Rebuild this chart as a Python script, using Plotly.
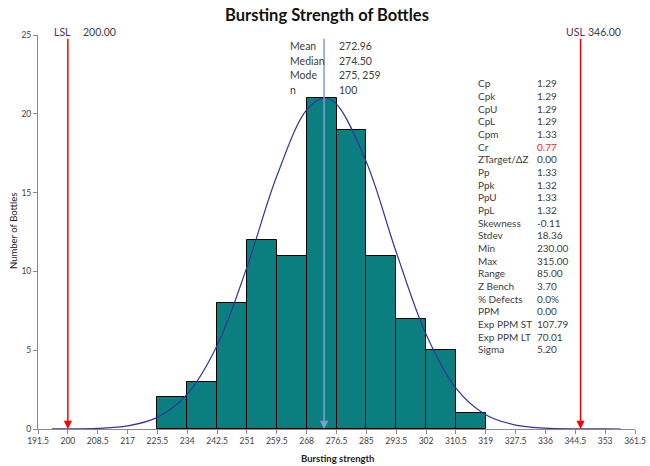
import plotly.graph_objects as go

# ---- data ----
bin_edges = [225.5, 234, 242.5, 251, 259.5, 268, 276.5, 285, 293.5, 302, 310.5, 319]
counts = [2, 3, 8, 12, 11, 21, 19, 11, 7, 5, 1]

curve_x = [195.5, 200, 208.5, 217, 225.5, 234, 242.5, 251, 259.5, 268, 273,
           276.5, 285, 293.5, 302, 310.5, 319, 327.5, 336, 344.5, 353, 357.5]
curve_y = [0.003, 0.008, 0.044, 0.20, 0.74, 2.21, 5.30, 10.27, 16.05, 20.25, 21.0,
           20.61, 16.94, 11.23, 6.01, 2.60, 0.91, 0.25, 0.058, 0.011, 0.002, 0.0005]

x_ticks = [191.5, 200, 208.5, 217, 225.5, 234, 242.5, 251, 259.5, 268, 276.5,
           285, 293.5, 302, 310.5, 319, 327.5, 336, 344.5, 353, 361.5]
x_tick_text = ["191.5", "200", "208.5", "217", "225.5", "234", "242.5", "251", "259.5",
               "268", "276.5", "285", "293.5", "302", "310.5", "319", "327.5", "336",
               "344.5", "353", "361.5"]

lsl = 200.0
usl = 346.0
mean = 272.96

center_labels = ["Mean", "Median", "Mode", "n"]
center_values = ["272.96", "274.50", "275, 259", "100"]

stat_labels = ["Cp", "Cpk", "CpU", "CpL", "Cpm", "Cr", "ZTarget/ΔZ", "Pp", "Ppk", "PpU",
               "PpL", "Skewness", "Stdev", "Min", "Max", "Range", "Z Bench", "% Defects",
               "PPM", "Exp PPM ST", "Exp PPM LT", "Sigma"]
stat_values = ["1.29", "1.29", "1.29", "1.29", "1.33", "0.77", "0.00", "1.33", "1.32", "1.33",
               "1.32", "-0.11", "18.36", "230.00", "315.00", "85.00", "3.70", "0.0%",
               "0.00", "107.79", "70.01", "5.20"]

FONT = "Lato"
TXT = "#404040"

W, H = 650, 466
L, R, T, B = 38, 14.5, 35, 37
PW = W - L - R
PH = H - T - B


def px_x(px):
    return (px - L) / PW


def px_y(py):
    return (H - B - py) / PH


centers = [(bin_edges[i] + bin_edges[i + 1]) / 2 for i in range(len(counts))]
widths = [bin_edges[i + 1] - bin_edges[i] for i in range(len(counts))]

fig = go.Figure()
fig.add_trace(go.Bar(
    x=centers, y=counts, width=widths,
    marker=dict(color="#0b7f7f", line=dict(color="#000000", width=1)),
    hoverinfo="x+y", showlegend=False))
fig.add_trace(go.Scatter(
    x=curve_x, y=curve_y, mode="lines",
    line=dict(color="#35359a", width=1.2, shape="spline"),
    showlegend=False, hoverinfo="skip"))

annotations = []
# LSL / USL / mean arrows
for xv, col, w in [(lsl, "#ff0000", 1.5), (usl, "#ff0000", 1.5), (mean, "#7f9ed0", 1.5)]:
    annotations.append(dict(
        x=xv, y=0, ax=xv, ay=24.85, xref="x", yref="y", axref="x", ayref="y",
        showarrow=True, arrowhead=2, arrowsize=1.1, arrowwidth=w, arrowcolor=col, text=""))

# LSL / USL labels
for txt, px, col in [("LSL", 52, "#5a2a5a"), ("200.00", 81, TXT), ("USL", 564, "#5a2a5a"), ("346.00", 586, TXT)]:
    annotations.append(dict(
        x=px_x(px), y=px_y(31.5), xref="paper", yref="paper", xanchor="left", yanchor="middle",
        text=txt, showarrow=False, font=dict(family=FONT, size=10.5, color=col)))

# center stats
for i, (lab, val) in enumerate(zip(center_labels, center_values)):
    yy = px_y(46 + i * 14.5)
    annotations.append(dict(x=px_x(288), y=yy, xref="paper", yref="paper", xanchor="left",
                            yanchor="middle", text=lab, showarrow=False,
                            font=dict(family=FONT, size=10.5, color=TXT)))
    annotations.append(dict(x=px_x(337), y=yy, xref="paper", yref="paper", xanchor="left",
                            yanchor="middle", text=val, showarrow=False,
                            font=dict(family=FONT, size=10.5, color=TXT)))

# right stats
for i, (lab, val) in enumerate(zip(stat_labels, stat_values)):
    yy = px_y(83.5 + i * 12.65)
    vcol = "#ff2020" if lab == "Cr" else TXT
    annotations.append(dict(x=px_x(476), y=yy, xref="paper", yref="paper", xanchor="left",
                            yanchor="middle", text=lab, showarrow=False,
                            font=dict(family=FONT, size=10, color=TXT)))
    annotations.append(dict(x=px_x(535), y=yy, xref="paper", yref="paper", xanchor="left",
                            yanchor="middle", text=val, showarrow=False,
                            font=dict(family=FONT, size=10, color=vcol)))

# axis titles
annotations.append(dict(x=px_x(338), y=px_y(458), xref="paper", yref="paper",
                        xanchor="center", yanchor="middle", showarrow=False,
                        text="<b>Bursting strength</b>",
                        font=dict(family=FONT, size=9.5, color="#222222")))
annotations.append(dict(x=px_x(13), y=px_y(231), xref="paper", yref="paper",
                        xanchor="center", yanchor="middle", showarrow=False, textangle=-90,
                        text="Number of Bottles",
                        font=dict(family=FONT, size=9.5, color="#222222")))

fig.update_layout(
    width=W, height=H,
    margin=dict(l=L, r=R, t=T, b=B, autoexpand=False),
    paper_bgcolor="white", plot_bgcolor="white",
    bargap=0,
    title=dict(text="<b>Bursting Strength of Bottles</b>", x=327 / W,
               xanchor="center", y=1 - 15 / H, yanchor="middle",
               font=dict(family=FONT, size=16.5, color="#111111")),
    xaxis=dict(range=[191.5, 361.5], tickmode="array", tickvals=x_ticks, ticktext=x_tick_text,
               showgrid=False, zeroline=False, showline=True, linecolor="#8a8a8a", linewidth=1,
               ticks="outside", ticklen=4, tickcolor="#8a8a8a", automargin=False,
               tickfont=dict(family=FONT, size=8.5, color=TXT)),
    yaxis=dict(range=[0, 25], tickvals=[0, 5, 10, 15, 20, 25],
               showgrid=False, zeroline=False, showline=True, linecolor="#8a8a8a", linewidth=1,
               ticks="outside", ticklen=4, tickcolor="#8a8a8a", automargin=False,
               tickfont=dict(family=FONT, size=8.5, color=TXT)),
    annotations=annotations,
)

fig.write_html("out.html",
               config={"displayModeBar": False},
               post_script="document.body.style.margin='0';document.body.style.overflow='hidden';")
